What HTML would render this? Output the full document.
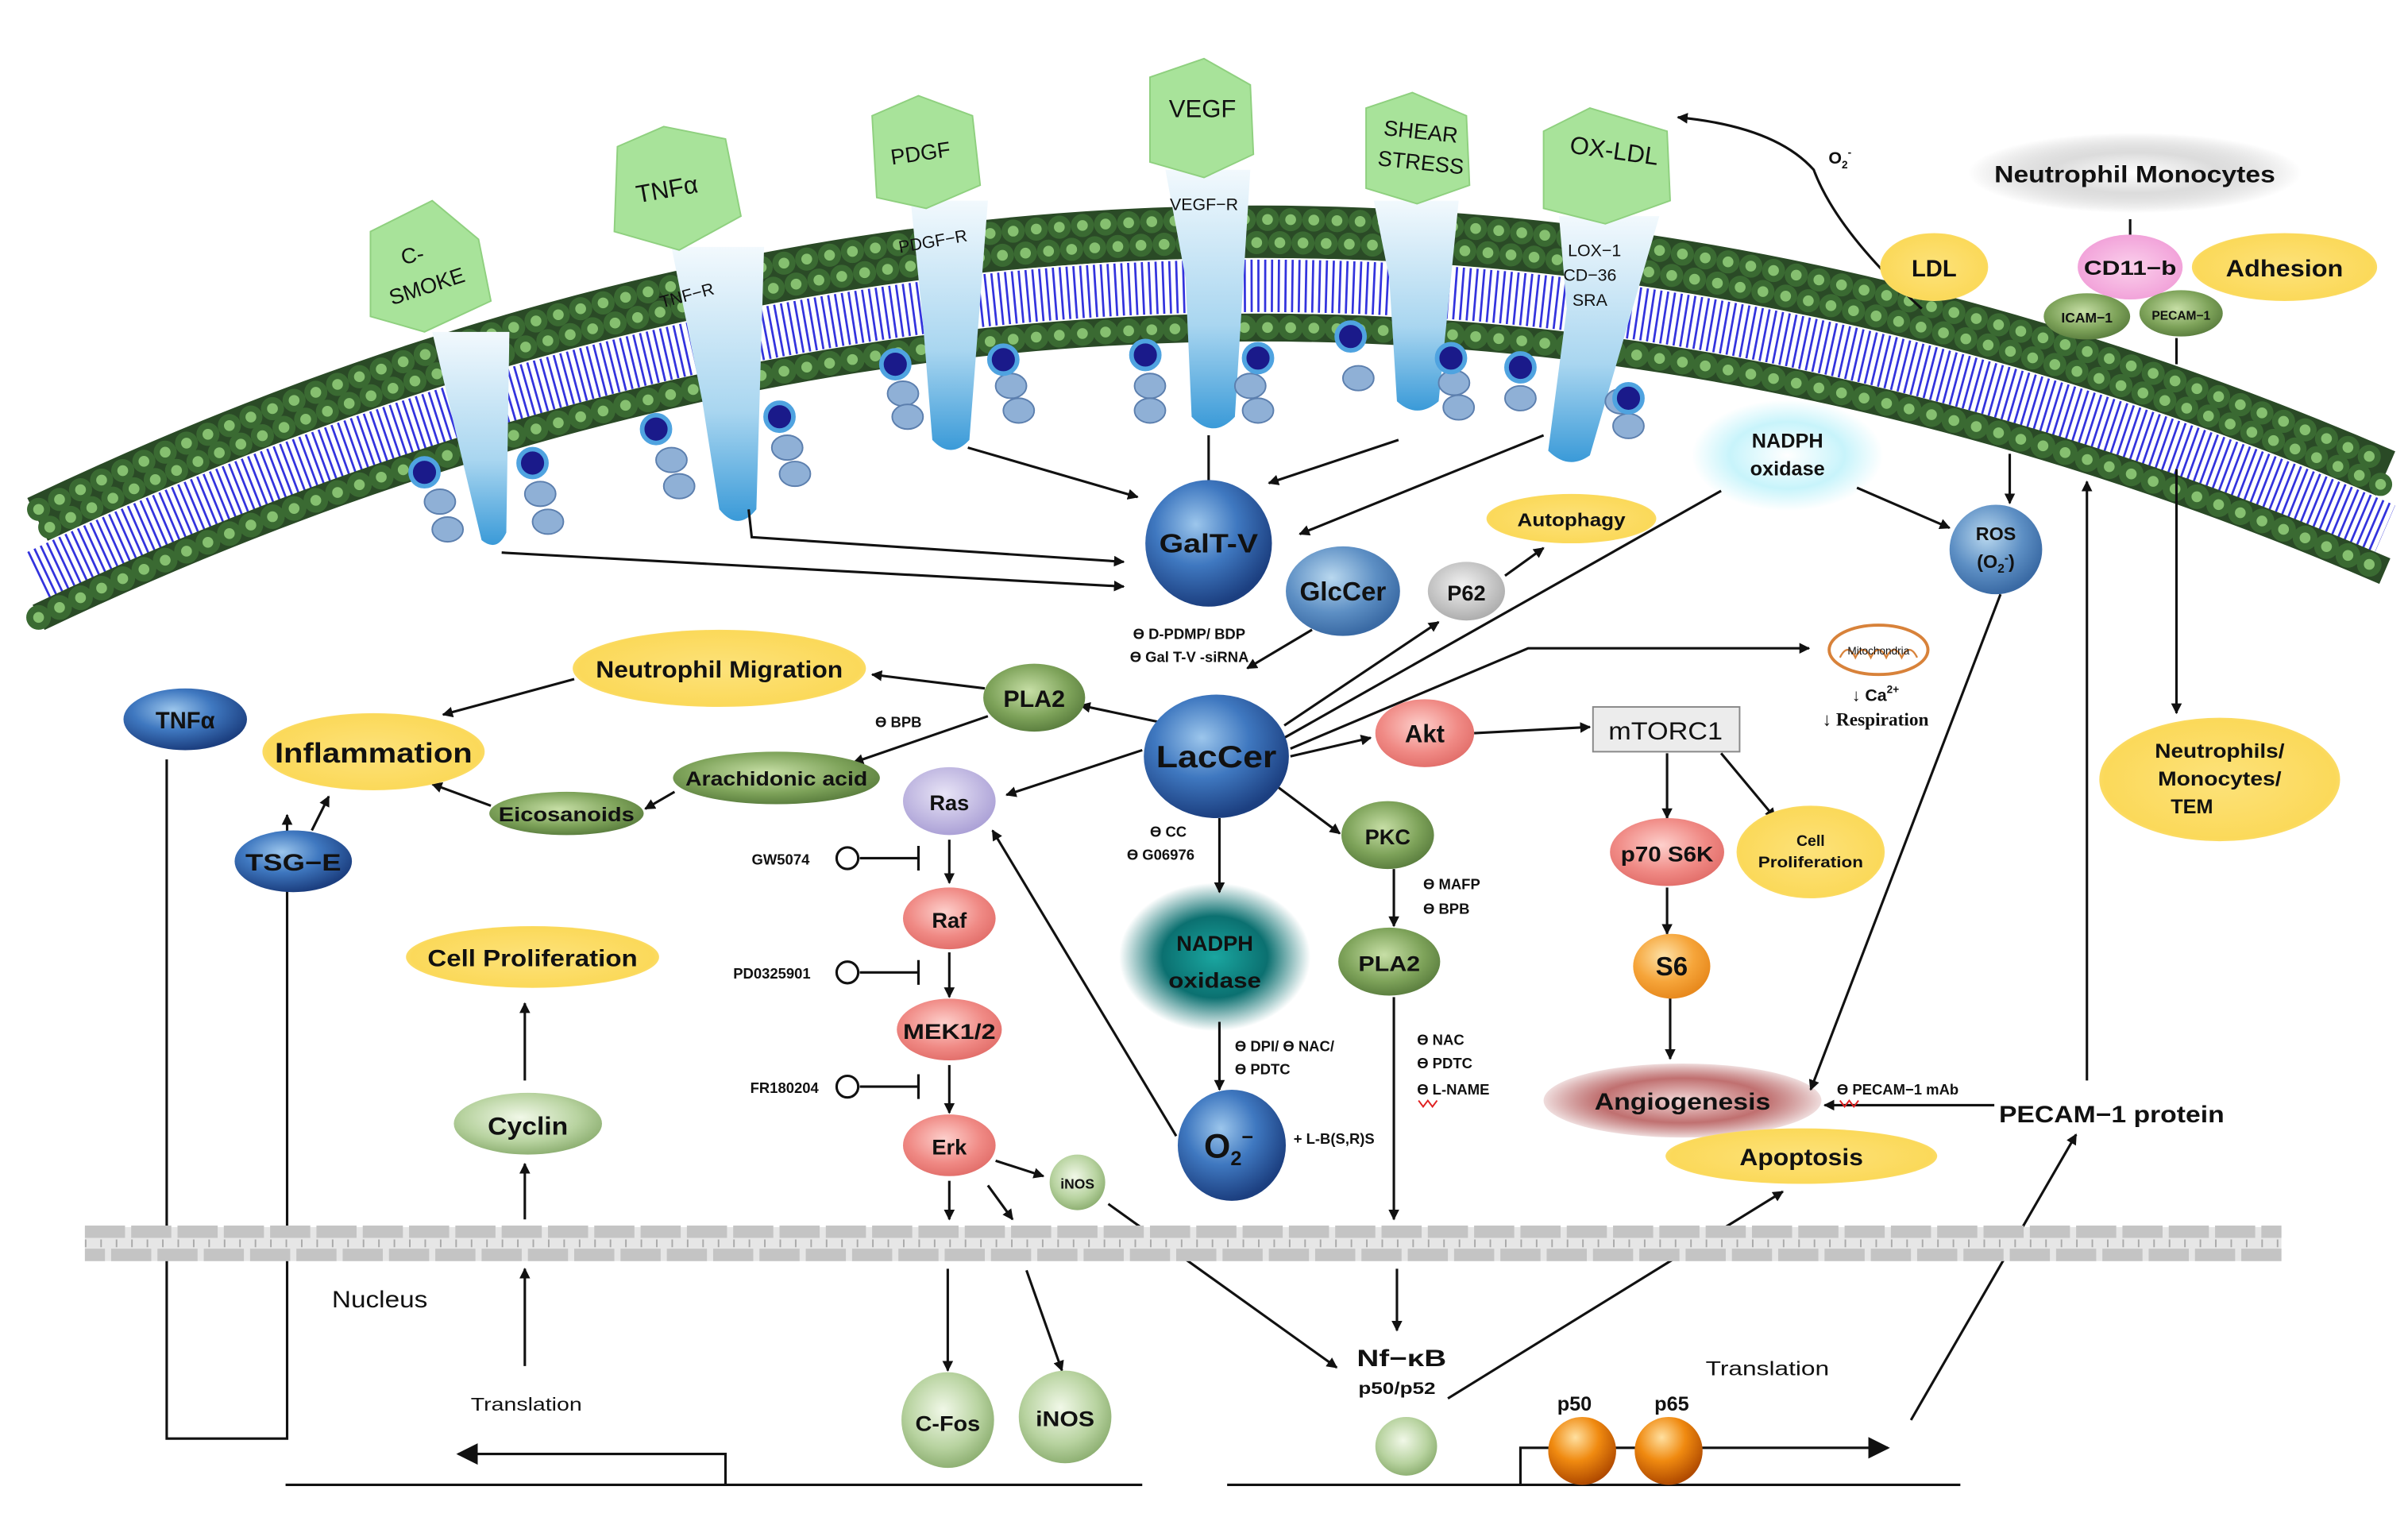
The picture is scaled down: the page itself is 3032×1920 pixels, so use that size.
<!DOCTYPE html>
<html><head><meta charset="utf-8"><style>
html,body{margin:0;padding:0;background:#fff}
svg{display:block}
text{font-family:"Liberation Sans Narrow","Liberation Sans",sans-serif;font-weight:bold;fill:#111}
</style></head><body>
<svg width="3032" height="1920" viewBox="0 0 1560 988" preserveAspectRatio="none" xmlns="http://www.w3.org/2000/svg">
<defs>
<radialGradient id="blue" cx="40%" cy="35%" r="65%"><stop offset="0" stop-color="#9cc6ec"/><stop offset="0.5" stop-color="#3f78c0"/><stop offset="1" stop-color="#1c3f80"/></radialGradient>
<radialGradient id="lblue" cx="40%" cy="35%" r="65%"><stop offset="0" stop-color="#b9d8ef"/><stop offset="0.6" stop-color="#5d8fc4"/><stop offset="1" stop-color="#3a6aa4"/></radialGradient>
<radialGradient id="green" cx="45%" cy="40%" r="65%"><stop offset="0" stop-color="#c7dfa6"/><stop offset="0.6" stop-color="#7ea35a"/><stop offset="1" stop-color="#55783a"/></radialGradient>
<radialGradient id="lgreen" cx="45%" cy="40%" r="65%"><stop offset="0" stop-color="#f1f8e8"/><stop offset="0.6" stop-color="#b8d3a0"/><stop offset="1" stop-color="#86a96a"/></radialGradient>
<radialGradient id="yellow" cx="50%" cy="50%" r="60%"><stop offset="0" stop-color="#fde27a"/><stop offset="0.8" stop-color="#fbd95a"/><stop offset="1" stop-color="#fde89a"/></radialGradient>
<radialGradient id="red" cx="45%" cy="40%" r="65%"><stop offset="0" stop-color="#fdd0cc"/><stop offset="0.6" stop-color="#f08a85"/><stop offset="1" stop-color="#e06a66"/></radialGradient>
<radialGradient id="purple" cx="45%" cy="40%" r="65%"><stop offset="0" stop-color="#e8e4f6"/><stop offset="1" stop-color="#a79cd4"/></radialGradient>
<radialGradient id="gray" cx="45%" cy="40%" r="65%"><stop offset="0" stop-color="#f2f2f2"/><stop offset="1" stop-color="#a8a8a8"/></radialGradient>
<radialGradient id="orange" cx="40%" cy="35%" r="65%"><stop offset="0" stop-color="#fde2a8"/><stop offset="0.6" stop-color="#f6a53a"/><stop offset="1" stop-color="#e88a1e"/></radialGradient>
<radialGradient id="oball" cx="40%" cy="30%" r="70%"><stop offset="0" stop-color="#ffe0a0"/><stop offset="0.5" stop-color="#f08a10"/><stop offset="1" stop-color="#b04a00"/></radialGradient>
<radialGradient id="pink" cx="50%" cy="50%" r="60%"><stop offset="0" stop-color="#fbd0ec"/><stop offset="1" stop-color="#f09ad6"/></radialGradient>
<radialGradient id="cyan" cx="50%" cy="50%" r="50%"><stop offset="0" stop-color="#ffffff"/><stop offset="0.6" stop-color="#c8f4fb"/><stop offset="1" stop-color="#c8f4fb" stop-opacity="0"/></radialGradient>
<radialGradient id="teal" cx="50%" cy="50%" r="50%"><stop offset="0" stop-color="#1aa6a0"/><stop offset="0.55" stop-color="#0b7070"/><stop offset="1" stop-color="#0b7070" stop-opacity="0"/></radialGradient>
<radialGradient id="angio" cx="50%" cy="50%" r="50%"><stop offset="0" stop-color="#f2d8d8"/><stop offset="0.6" stop-color="#c07070"/><stop offset="1" stop-color="#b05555" stop-opacity="0.2"/></radialGradient>
<radialGradient id="nm" cx="50%" cy="50%" r="50%"><stop offset="0" stop-color="#ffffff"/><stop offset="0.5" stop-color="#dcdcdc"/><stop offset="1" stop-color="#c0c0c0" stop-opacity="0"/></radialGradient>
<linearGradient id="rec" x1="0" y1="0" x2="0" y2="1"><stop offset="0" stop-color="#f2f9fd"/><stop offset="0.6" stop-color="#a9d6f0"/><stop offset="1" stop-color="#3a9ad8"/></linearGradient>
<marker id="a" viewBox="0 0 10 10" refX="9" refY="5" markerWidth="7" markerHeight="7" orient="auto" markerUnits="userSpaceOnUse"><path d="M0,0L10,5L0,10z" fill="#111"/></marker>
<marker id="A" viewBox="0 0 10 10" refX="9" refY="5" markerWidth="14" markerHeight="14" orient="auto" markerUnits="userSpaceOnUse"><path d="M0,0L10,5L0,10z" fill="#111"/></marker>
</defs>

<!-- membrane -->
<g fill="none">
<path d="M25,338 Q780,-22 1545,308" stroke="#2a4a26" stroke-width="34"/>
<path d="M25,330 Q780,-30 1545,300" stroke="#3a6a32" stroke-width="15" stroke-dasharray="0 15" stroke-linecap="round"/>
<path d="M25,330 Q780,-30 1545,300" stroke="#86c070" stroke-width="7" stroke-dasharray="0 15" stroke-linecap="round"/>
<path d="M25,345 Q780,-15 1545,315" stroke="#3a6a32" stroke-width="15" stroke-dasharray="0 15" stroke-dashoffset="7" stroke-linecap="round"/>
<path d="M25,345 Q780,-15 1545,315" stroke="#86c070" stroke-width="7" stroke-dasharray="0 15" stroke-dashoffset="7" stroke-linecap="round"/>
<path d="M25,373 Q780,13 1545,343" stroke="#ffffff" stroke-width="36"/>
<path d="M25,373 Q780,13 1545,343" stroke="#3333dd" stroke-width="34" stroke-dasharray="1.4 3"/>
<path d="M25,400 Q780,40 1545,370" stroke="#2a4a26" stroke-width="18"/>
<path d="M25,400 Q780,40 1545,370" stroke="#3a6a32" stroke-width="16" stroke-dasharray="0 15" stroke-linecap="round"/>
<path d="M25,400 Q780,40 1545,370" stroke="#86c070" stroke-width="7" stroke-dasharray="0 15" stroke-linecap="round"/>
</g>

<!-- receptors -->
<g>
<path d="M280,215 L330,215 L328,345 Q322,358 312,350 L300,300 Z" fill="url(#rec)"/>
<path d="M435,160 L495,160 L490,330 Q478,345 466,330 L455,260 Z" fill="url(#rec)"/>
<path d="M590,130 L640,130 L628,285 Q616,298 604,285 L598,210 Z" fill="url(#rec)"/>
<path d="M755,110 L810,110 L800,270 Q786,285 772,270 L768,180 Z" fill="url(#rec)"/>
<path d="M890,130 L945,130 L932,260 Q918,272 905,260 L900,180 Z" fill="url(#rec)"/>
<path d="M1010,140 L1075,140 L1030,295 Q1016,305 1003,292 L1015,200 Z" fill="url(#rec)"/>
</g>
<g fill="#8fb0d6" stroke="#5c7fae" stroke-width="1">
<ellipse cx="285" cy="325" rx="10" ry="8"/><ellipse cx="290" cy="343" rx="10" ry="8"/><ellipse cx="350" cy="320" rx="10" ry="8"/><ellipse cx="355" cy="338" rx="10" ry="8"/>
<ellipse cx="435" cy="298" rx="10" ry="8"/><ellipse cx="440" cy="315" rx="10" ry="8"/><ellipse cx="510" cy="290" rx="10" ry="8"/><ellipse cx="515" cy="307" rx="10" ry="8"/>
<ellipse cx="585" cy="255" rx="10" ry="8"/><ellipse cx="588" cy="270" rx="10" ry="8"/><ellipse cx="655" cy="250" rx="10" ry="8"/><ellipse cx="660" cy="266" rx="10" ry="8"/>
<ellipse cx="745" cy="250" rx="10" ry="8"/><ellipse cx="745" cy="266" rx="10" ry="8"/><ellipse cx="810" cy="250" rx="10" ry="8"/><ellipse cx="815" cy="266" rx="10" ry="8"/>
<ellipse cx="880" cy="245" rx="10" ry="8"/><ellipse cx="942" cy="248" rx="10" ry="8"/><ellipse cx="945" cy="264" rx="10" ry="8"/>
<ellipse cx="985" cy="258" rx="10" ry="8"/><ellipse cx="1050" cy="260" rx="10" ry="8"/><ellipse cx="1055" cy="276" rx="10" ry="8"/>
</g>
<g fill="#1a1a8a" stroke="#4fa3e0" stroke-width="3">
<circle cx="275" cy="306" r="9"/><circle cx="345" cy="300" r="9"/><circle cx="425" cy="278" r="9"/><circle cx="505" cy="270" r="9"/>
<circle cx="580" cy="236" r="9"/><circle cx="650" cy="233" r="9"/><circle cx="742" cy="230" r="9"/><circle cx="815" cy="232" r="9"/>
<circle cx="875" cy="218" r="9"/><circle cx="940" cy="232" r="9"/><circle cx="985" cy="238" r="9"/><circle cx="1055" cy="258" r="9"/>
</g>

<!-- ligands -->
<g fill="#a8e39a" stroke="#8fd07f" stroke-width="1">
<path d="M240,150 L280,130 L310,155 L318,195 L275,215 L240,205 Z"/>
<path d="M400,95 L430,82 L470,90 L480,140 L440,162 L398,150 Z"/>
<path d="M565,75 L595,62 L630,75 L635,120 L600,135 L568,128 Z"/>
<path d="M745,50 L780,38 L810,55 L812,100 L780,115 L745,105 Z"/>
<path d="M885,70 L915,60 L950,75 L952,120 L918,132 L885,122 Z"/>
<path d="M1000,85 L1030,70 L1080,85 L1082,130 L1040,145 L1000,135 Z"/>
</g>
<g font-size="14">
<text x="268" y="170" text-anchor="middle" transform="rotate(-10 268 170)" style="font-weight:normal">C-</text>
<text x="278" y="190" text-anchor="middle" transform="rotate(-18 278 190)" style="font-weight:normal">SMOKE</text>
<text x="433" y="128" text-anchor="middle" font-size="16" transform="rotate(-10 433 128)" style="font-weight:normal">TNFα</text>
<text x="597" y="104" text-anchor="middle" transform="rotate(-8 597 104)" style="font-weight:normal">PDGF</text>
<text x="779" y="76" text-anchor="middle" font-size="16" style="font-weight:normal">VEGF</text>
<text x="920" y="90" text-anchor="middle" transform="rotate(6 920 90)" style="font-weight:normal">SHEAR</text>
<text x="920" y="110" text-anchor="middle" transform="rotate(6 920 110)" style="font-weight:normal">STRESS</text>
<text x="1045" y="103" text-anchor="middle" font-size="16" transform="rotate(8 1045 103)" style="font-weight:normal">OX-LDL</text>
</g>
<g font-size="11">
<text x="446" y="195" text-anchor="middle" transform="rotate(-15 446 195)" style="font-weight:normal">TNF−R</text>
<text x="605" y="160" text-anchor="middle" transform="rotate(-10 605 160)" style="font-weight:normal">PDGF−R</text>
<text x="780" y="136" text-anchor="middle" style="font-weight:normal">VEGF−R</text>
<text x="1033" y="166" text-anchor="middle" style="font-weight:normal">LOX−1</text>
<text x="1030" y="182" text-anchor="middle" style="font-weight:normal">CD−36</text>
<text x="1030" y="198" text-anchor="middle" style="font-weight:normal">SRA</text>
</g>

<!-- glows -->
<ellipse cx="1158" cy="295" rx="62" ry="36" fill="url(#cyan)"/>
<ellipse cx="787" cy="620" rx="62" ry="48" fill="url(#teal)"/>
<ellipse cx="1383" cy="112" rx="108" ry="26" fill="url(#nm)"/>
<ellipse cx="1090" cy="713" rx="90" ry="24" fill="url(#angio)"/>

<!-- connectors -->
<g stroke="#111" stroke-width="1.6" fill="none">
<path d="M325,358 L728,380" marker-end="url(#a)"/>
<path d="M485,330 L487,348 L728,364" marker-end="url(#a)"/>
<path d="M627,290 L737,322" marker-end="url(#a)"/>
<path d="M783,282 L783,312"/>
<path d="M906,285 L822,313" marker-end="url(#a)"/>
<path d="M1000,282 L842,346" marker-end="url(#a)"/>
<path d="M850,408 L808,433" marker-end="url(#a)"/>
<path d="M975,373 L1000,355" marker-end="url(#a)"/>
<path d="M832,470 L932,403" marker-end="url(#a)"/>
<path d="M832,478 L1115,318"/>
<path d="M836,485 L990,420 L1172,420" marker-end="url(#a)"/>
<path d="M1203,316 L1263,342" marker-end="url(#a)"/>
<path d="M1302,294 L1302,326" marker-end="url(#a)"/>
<path d="M1296,385 L1173,706" marker-end="url(#a)"/>
<path d="M1245,200 Q1190,150 1175,110 Q1150,82 1087,76" marker-end="url(#a)"/>
<path d="M1380,142 L1380,154"/>
<path d="M1410,219 L1410,236"/>
<path d="M1410,304 L1410,462" marker-end="url(#a)"/>
<path d="M1352,700 L1352,312" marker-end="url(#a)"/>
<path d="M1292,716 L1182,716" marker-end="url(#a)"/>
<path d="M836,490 L888,478" marker-end="url(#a)"/>
<path d="M955,475 L1030,471" marker-end="url(#a)"/>
<path d="M1080,488 L1080,530" marker-end="url(#a)"/>
<path d="M1115,488 L1150,530" marker-end="url(#a)"/>
<path d="M1080,575 L1080,605" marker-end="url(#a)"/>
<path d="M1082,645 L1082,686" marker-end="url(#a)"/>
<path d="M828,510 L868,540" marker-end="url(#a)"/>
<path d="M903,563 L903,600" marker-end="url(#a)"/>
<path d="M903,646 L903,790" marker-end="url(#a)"/>
<path d="M905,822 L905,862" marker-end="url(#a)"/>
<path d="M790,530 L790,578" marker-end="url(#a)"/>
<path d="M790,662 L790,706" marker-end="url(#a)"/>
<path d="M762,736 L643,538" marker-end="url(#a)"/>
<path d="M740,486 L652,515" marker-end="url(#a)"/>
<path d="M752,468 L700,457" marker-end="url(#a)"/>
<path d="M638,446 L565,437" marker-end="url(#a)"/>
<path d="M372,440 L287,463" marker-end="url(#a)"/>
<path d="M640,464 L553,494" marker-end="url(#a)"/>
<path d="M437,513 L418,524" marker-end="url(#a)"/>
<path d="M318,522 L280,508" marker-end="url(#a)"/>
<path d="M202,538 L213,516" marker-end="url(#a)"/>
<path d="M615,544 L615,572" marker-end="url(#a)"/>
<path d="M615,617 L615,646" marker-end="url(#a)"/>
<path d="M615,690 L615,721" marker-end="url(#a)"/>
<path d="M645,752 L676,762" marker-end="url(#a)"/>
<path d="M615,765 L615,790" marker-end="url(#a)"/>
<path d="M640,768 L656,790" marker-end="url(#a)"/>
<path d="M614,822 L614,888" marker-end="url(#a)"/>
<path d="M665,823 L688,888" marker-end="url(#a)"/>
<path d="M718,780 L866,886" marker-end="url(#a)"/>
<path d="M938,906 L1155,772" marker-end="url(#a)"/>
<path d="M1238,920 L1345,735" marker-end="url(#a)"/>
<path d="M340,700 L340,650" marker-end="url(#a)"/>
<path d="M340,790 L340,754" marker-end="url(#a)"/>
<path d="M340,885 L340,822" marker-end="url(#a)"/>
<path d="M108,492 L108,932 L186,932 L186,528" marker-end="url(#a)"/>
<path d="M470,962 L470,942 L297,942" marker-end="url(#A)"/>
<path d="M985,962 L985,938 L1223,938" marker-end="url(#A)"/>
<path d="M185,962 L740,962"/>
<path d="M795,962 L1270,962"/>
<path d="M557,556 L595,556 M595,548 L595,564"/>
<path d="M557,630 L595,630 M595,622 L595,638"/>
<path d="M557,704 L595,704 M595,696 L595,712"/>
</g>
<g fill="#fff" stroke="#111" stroke-width="1.6">
<circle cx="549" cy="556" r="7"/><circle cx="549" cy="630" r="7"/><circle cx="549" cy="704" r="7"/>
</g>

<!-- nuclear membrane -->
<rect x="55" y="795" width="1423" height="22" fill="#e6e6e6"/>
<path d="M55,798 L1478,798" stroke="#c4c4c4" stroke-width="8" stroke-dasharray="26 4" fill="none"/>
<path d="M55,813 L1478,813" stroke="#c4c4c4" stroke-width="8" stroke-dasharray="26 4" stroke-dashoffset="13" fill="none"/>
<path d="M55,805.5 L1478,805.5" stroke="#aaa" stroke-width="5" stroke-dasharray="1 9" fill="none"/>

<!-- nodes -->
<circle cx="783" cy="352" r="41" fill="url(#blue)"/>
<ellipse cx="870" cy="383" rx="37" ry="29" fill="url(#lblue)"/>
<ellipse cx="950" cy="383" rx="25" ry="19" fill="url(#gray)"/>
<ellipse cx="1018" cy="336" rx="55" ry="16" fill="url(#yellow)"/>
<ellipse cx="1293" cy="356" rx="30" ry="29" fill="url(#lblue)"/>
<ellipse cx="1253" cy="173" rx="35" ry="22" fill="url(#yellow)"/>
<ellipse cx="1380" cy="173" rx="34" ry="21" fill="url(#pink)"/>
<ellipse cx="1480" cy="173" rx="60" ry="22" fill="url(#yellow)"/>
<ellipse cx="1352" cy="205" rx="28" ry="15" fill="url(#green)"/>
<ellipse cx="1413" cy="203" rx="27" ry="15" fill="url(#green)"/>
<ellipse cx="1438" cy="505" rx="78" ry="40" fill="url(#yellow)"/>
<ellipse cx="788" cy="490" rx="47" ry="40" fill="url(#blue)"/>
<ellipse cx="923" cy="475" rx="32" ry="22" fill="url(#red)"/>
<rect x="1032" y="458" width="95" height="29" fill="#ececec" stroke="#888" stroke-width="1"/>
<ellipse cx="1173" cy="552" rx="48" ry="30" fill="url(#yellow)"/>
<ellipse cx="1080" cy="552" rx="37" ry="22" fill="url(#red)"/>
<ellipse cx="1083" cy="626" rx="25" ry="21" fill="url(#orange)"/>
<ellipse cx="1167" cy="749" rx="88" ry="18" fill="url(#yellow)"/>
<ellipse cx="670" cy="452" rx="33" ry="22" fill="url(#green)"/>
<ellipse cx="466" cy="433" rx="95" ry="25" fill="url(#yellow)"/>
<ellipse cx="120" cy="466" rx="40" ry="20" fill="url(#blue)"/>
<ellipse cx="242" cy="487" rx="72" ry="25" fill="url(#yellow)"/>
<ellipse cx="503" cy="504" rx="67" ry="17" fill="url(#green)"/>
<ellipse cx="367" cy="527" rx="50" ry="14" fill="url(#green)"/>
<ellipse cx="190" cy="558" rx="38" ry="20" fill="url(#blue)"/>
<ellipse cx="615" cy="519" rx="30" ry="22" fill="url(#purple)"/>
<ellipse cx="615" cy="595" rx="30" ry="20" fill="url(#red)"/>
<ellipse cx="615" cy="667" rx="34" ry="20" fill="url(#red)"/>
<ellipse cx="615" cy="742" rx="30" ry="20" fill="url(#red)"/>
<ellipse cx="698" cy="766" rx="18" ry="18" fill="url(#lgreen)"/>
<ellipse cx="899" cy="541" rx="30" ry="22" fill="url(#green)"/>
<ellipse cx="900" cy="623" rx="33" ry="22" fill="url(#green)"/>
<ellipse cx="798" cy="742" rx="35" ry="36" fill="url(#blue)"/>
<ellipse cx="345" cy="620" rx="82" ry="20" fill="url(#yellow)"/>
<ellipse cx="342" cy="728" rx="48" ry="20" fill="url(#lgreen)"/>
<ellipse cx="614" cy="920" rx="30" ry="31" fill="url(#lgreen)"/>
<ellipse cx="690" cy="918" rx="30" ry="30" fill="url(#lgreen)"/>
<ellipse cx="911" cy="937" rx="20" ry="19" fill="url(#lgreen)"/>
<ellipse cx="1025" cy="940" rx="22" ry="22" fill="url(#oball)"/>
<ellipse cx="1081" cy="940" rx="22" ry="22" fill="url(#oball)"/>
<ellipse cx="1217" cy="421" rx="32" ry="16" fill="#fff" stroke="#d8823a" stroke-width="2"/>
<path d="M1192,426 q5,-10 10,0 q5,-10 10,0 q5,-10 10,0 q5,-10 10,0 q5,-10 10,0" fill="none" stroke="#d8823a" stroke-width="1.2"/>

<!-- labels -->
<g text-anchor="middle">
<text x="783" y="358" font-size="17" textLength="64" lengthAdjust="spacingAndGlyphs">GalT-V</text>
<text x="870" y="389" font-size="17" textLength="56" lengthAdjust="spacingAndGlyphs">GlcCer</text>
<text x="950" y="389" font-size="14">P62</text>
<text x="1018" y="341" font-size="12" textLength="70" lengthAdjust="spacingAndGlyphs">Autophagy</text>
<text x="1158" y="290" font-size="13">NADPH</text>
<text x="1158" y="308" font-size="13">oxidase</text>
<text x="1293" y="350" font-size="12">ROS</text>
<text x="1293" y="368" font-size="12">(O<tspan font-size="8" dy="3">2</tspan><tspan font-size="8" dy="-7">-</tspan><tspan dy="4">)</tspan></text>
<text x="1253" y="179" font-size="15">LDL</text>
<text x="1383" y="118" font-size="15" textLength="182" lengthAdjust="spacingAndGlyphs">Neutrophil Monocytes</text>
<text x="1380" y="178" font-size="13" textLength="60" lengthAdjust="spacingAndGlyphs">CD11−b</text>
<text x="1480" y="179" font-size="15" textLength="76" lengthAdjust="spacingAndGlyphs">Adhesion</text>
<text x="1352" y="209" font-size="9">ICAM−1</text>
<text x="1413" y="207" font-size="8">PECAM−1</text>
<text x="1438" y="491" font-size="13" textLength="84" lengthAdjust="spacingAndGlyphs">Neutrophils/</text>
<text x="1438" y="509" font-size="13" textLength="80" lengthAdjust="spacingAndGlyphs">Monocytes/</text>
<text x="1420" y="527" font-size="13">TEM</text>
<text x="1217" y="424" font-size="7" style="font-weight:normal">Mitochondria</text>
<text x="1215" y="454" font-size="11">↓ Ca<tspan font-size="7" dy="-5">2+</tspan></text>
<text x="1215" y="470" font-size="12" font-family="Liberation Serif" style="font-family:'Liberation Serif',serif">↓ Respiration</text>
<text x="788" y="497" font-size="20" textLength="78" lengthAdjust="spacingAndGlyphs">LacCer</text>
<text x="923" y="481" font-size="16">Akt</text>
<text x="1079" y="479" font-size="16" style="font-weight:normal" textLength="74" lengthAdjust="spacingAndGlyphs">mTORC1</text>
<text x="1173" y="548" font-size="10">Cell</text>
<text x="1173" y="562" font-size="10" textLength="68" lengthAdjust="spacingAndGlyphs">Proliferation</text>
<text x="1080" y="558" font-size="14" textLength="60" lengthAdjust="spacingAndGlyphs">p70 S6K</text>
<text x="1083" y="632" font-size="17">S6</text>
<text x="1090" y="719" font-size="15" textLength="114" lengthAdjust="spacingAndGlyphs">Angiogenesis</text>
<text x="1167" y="755" font-size="15" textLength="80" lengthAdjust="spacingAndGlyphs">Apoptosis</text>
<text x="1368" y="727" font-size="15" textLength="146" lengthAdjust="spacingAndGlyphs">PECAM−1 protein</text>
<text x="670" y="458" font-size="15" textLength="40" lengthAdjust="spacingAndGlyphs">PLA2</text>
<text x="466" y="439" font-size="15" textLength="160" lengthAdjust="spacingAndGlyphs">Neutrophil Migration</text>
<text x="120" y="472" font-size="15">TNFα</text>
<text x="242" y="494" font-size="18" textLength="128" lengthAdjust="spacingAndGlyphs">Inflammation</text>
<text x="503" y="509" font-size="13" textLength="118" lengthAdjust="spacingAndGlyphs">Arachidonic acid</text>
<text x="367" y="532" font-size="13" textLength="88" lengthAdjust="spacingAndGlyphs">Eicosanoids</text>
<text x="190" y="564" font-size="15" textLength="62" lengthAdjust="spacingAndGlyphs">TSG−E</text>
<text x="615" y="525" font-size="14">Ras</text>
<text x="615" y="601" font-size="14">Raf</text>
<text x="615" y="673" font-size="14" textLength="60" lengthAdjust="spacingAndGlyphs">MEK1/2</text>
<text x="615" y="748" font-size="14">Erk</text>
<text x="698" y="770" font-size="9">iNOS</text>
<text x="899" y="547" font-size="14">PKC</text>
<text x="900" y="629" font-size="14" textLength="40" lengthAdjust="spacingAndGlyphs">PLA2</text>
<text x="787" y="616" font-size="14">NADPH</text>
<text x="787" y="640" font-size="14" textLength="60" lengthAdjust="spacingAndGlyphs">oxidase</text>
<text x="796" y="750" font-size="22">O<tspan font-size="13" dy="5">2</tspan><tspan font-size="13" dy="-14">−</tspan></text>
<text x="345" y="626" font-size="15" textLength="136" lengthAdjust="spacingAndGlyphs">Cell Proliferation</text>
<text x="342" y="735" font-size="16" textLength="52" lengthAdjust="spacingAndGlyphs">Cyclin</text>
<text x="614" y="927" font-size="14" textLength="42" lengthAdjust="spacingAndGlyphs">C-Fos</text>
<text x="690" y="924" font-size="14" textLength="38" lengthAdjust="spacingAndGlyphs">iNOS</text>
<text x="908" y="885" font-size="15" textLength="58" lengthAdjust="spacingAndGlyphs">Nf−κB</text>
<text x="905" y="903" font-size="11" textLength="50" lengthAdjust="spacingAndGlyphs">p50/p52</text>
<text x="1020" y="914" font-size="13">p50</text>
<text x="1083" y="914" font-size="13">p65</text>
<text x="1145" y="891" font-size="13" style="font-weight:normal" textLength="80" lengthAdjust="spacingAndGlyphs">Translation</text>
<text x="341" y="914" font-size="12" style="font-weight:normal" textLength="72" lengthAdjust="spacingAndGlyphs">Translation</text>
<text x="246" y="847" font-size="15" style="font-weight:normal" textLength="62" lengthAdjust="spacingAndGlyphs">Nucleus</text>
<text x="1192" y="106" font-size="11">O<tspan font-size="7" dy="3">2</tspan><tspan font-size="7" dy="-8">-</tspan></text>
</g>
<g font-size="9.5">
<text x="734" y="414">ϴ D-PDMP/ BDP</text>
<text x="732" y="429">ϴ Gal T-V -siRNA</text>
<text x="567" y="471">ϴ BPB</text>
<text x="745" y="542">ϴ CC</text>
<text x="730" y="557">ϴ G06976</text>
<text x="922" y="576">ϴ MAFP</text>
<text x="922" y="592">ϴ BPB</text>
<text x="800" y="681">ϴ DPI/ ϴ NAC/</text>
<text x="800" y="696">ϴ PDTC</text>
<text x="918" y="677">ϴ NAC</text>
<text x="918" y="692">ϴ PDTC</text>
<text x="918" y="709">ϴ L-NAME</text>
<text x="838" y="741">+ L-B(S,R)S</text>
<text x="1190" y="709">ϴ PECAM−1 mAb</text>
<text x="487" y="560">GW5074</text>
<text x="475" y="634">PD0325901</text>
<text x="486" y="708">FR180204</text>
</g>
<path d="M919,713 l3,4 l3,-4 l3,4 l3,-4 M1192,713 l3,4 l3,-4 l3,4 l3,-4" stroke="#e02020" stroke-width="1" fill="none"/>
</svg>
</body></html>
